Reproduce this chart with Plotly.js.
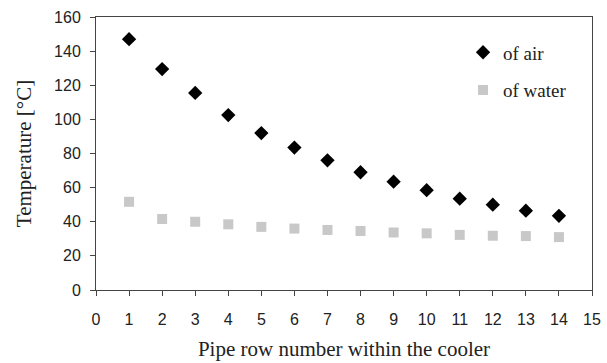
<!DOCTYPE html>
<html><head><meta charset="utf-8">
<script src="https://cdn.plot.ly/plotly-3.0.1.min.js"></script>
<style>html,body{margin:0;padding:0;background:#fff}</style>
</head><body>
<div id="chart" style="width:607px;height:363px"></div>
<script>
const rows = [1,2,3,4,5,6,7,8,9,10,11,12,13,14];
const airTemp = [147, 129.5, 115.5, 102.5, 92, 83.5, 76, 69, 63.5, 58.5, 53.5, 50, 46.5, 43.5];
const waterTemp = [51.7, 41.6, 40, 38.5, 37, 36, 35.2, 34.6, 33.7, 33.2, 32.3, 31.8, 31.6, 31];
const xTicks = [0,1,2,3,4,5,6,7,8,9,10,11,12,13,14,15];
const yTicks = [0,20,40,60,80,100,120,140,160];

const traces = [
  {x: rows, y: airTemp, name: 'of air', type: 'scatter', mode: 'markers', legendgroup: 'air',
   marker: {symbol: 'diamond', size: 11, color: '#000'}},
  {x: rows, y: waterTemp, name: 'of water', type: 'scatter', mode: 'markers', legendgroup: 'water',
   marker: {symbol: 'square', size: 10, color: '#c8c8c8'}}
];
const layout = {
  width: 607, height: 363,
  margin: {l: 96, r: 15, t: 17, b: 73},
  paper_bgcolor: '#fff', plot_bgcolor: '#fff',
  showlegend: true,
  legend: {x: 0.74, y: 0.94, xanchor: 'left', yanchor: 'top',
    font: {family: 'Liberation Serif, Times New Roman, serif', size: 19, color: '#222'},
    bgcolor: 'rgba(0,0,0,0)', itemwidth: 30, tracegroupgap: 10},
  xaxis: {range: [0, 15], tickvals: xTicks, ticktext: xTicks.map(String),
    showgrid: false, zeroline: false, showline: true, linecolor: '#444', linewidth: 1,
    mirror: true, ticks: 'outside', ticklen: 5, tickcolor: '#444', ticklabelstandoff: 10,
    tickfont: {family: 'Liberation Sans, Arial, sans-serif', size: 16, color: '#222'},
    title: {text: 'Pipe row number within the cooler', standoff: 14,
      font: {family: 'Liberation Serif, Times New Roman, serif', size: 21, color: '#222'}}},
  yaxis: {range: [0, 160], tickvals: yTicks, ticktext: yTicks.map(String),
    showgrid: false, zeroline: false, showline: true, linecolor: '#444', linewidth: 1,
    mirror: true, ticks: 'outside', ticklen: 5, tickcolor: '#444', ticklabelstandoff: 6,
    tickfont: {family: 'Liberation Sans, Arial, sans-serif', size: 16, color: '#222'},
    title: {text: 'Temperature [°C]', standoff: 16,
      font: {family: 'Liberation Serif, Times New Roman, serif', size: 21, color: '#222'}}}
};
Plotly.newPlot('chart', traces, layout, {displayModeBar: false, staticPlot: true});
</script>
</body></html>
